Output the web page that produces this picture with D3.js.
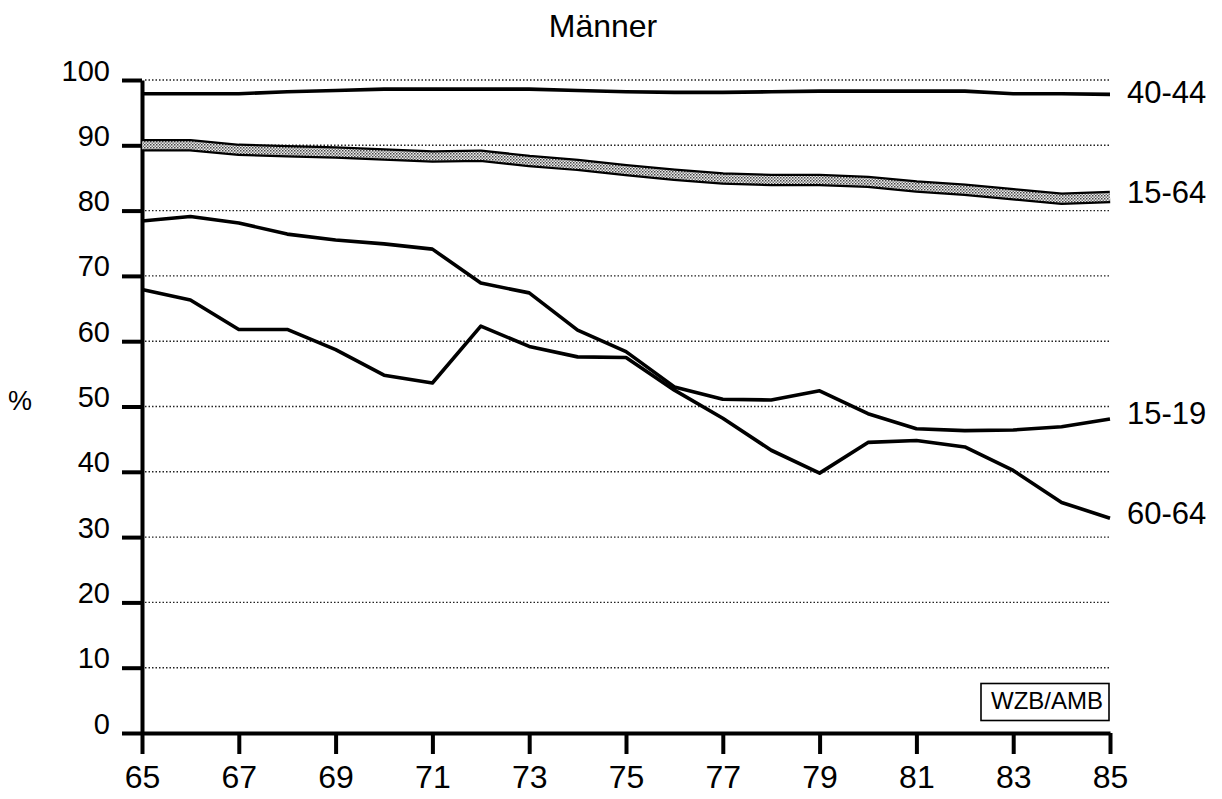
<!DOCTYPE html>
<html>
<head>
<meta charset="utf-8">
<script src="https://cdnjs.cloudflare.com/ajax/libs/d3/7.8.5/d3.min.js"></script>
<style>
  body { margin: 0; background: #fff; }
  text { font-family: "Liberation Sans", Arial, sans-serif; fill: #000; }
</style>
</head>
<body>
<script>
// data (Erwerbsquoten Männer, %)

const years = [65, 66, 67, 68, 69, 70, 71, 72, 73, 74, 75, 76, 77, 78, 79, 80, 81, 82, 83, 84, 85];
const age4044 = [97.9, 97.9, 97.9, 98.2, 98.4, 98.6, 98.6, 98.6, 98.6, 98.4, 98.2, 98.1, 98.1, 98.2, 98.3, 98.3, 98.3, 98.3, 97.9, 97.9, 97.8];
const age1564 = [90.0, 90.0, 89.3, 89.1, 88.9, 88.6, 88.3, 88.4, 87.6, 87.0, 86.2, 85.5, 84.9, 84.7, 84.7, 84.4, 83.7, 83.2, 82.5, 81.8, 82.1];
const age1519 = [78.4, 79.1, 78.1, 76.4, 75.5, 74.9, 74.1, 68.9, 67.4, 61.7, 58.4, 53.0, 51.1, 51.0, 52.4, 48.9, 46.6, 46.3, 46.4, 46.9, 48.1];
const age6064 = [67.9, 66.3, 61.8, 61.8, 58.7, 54.8, 53.6, 62.3, 59.2, 57.6, 57.5, 52.5, 48.2, 43.3, 39.8, 44.5, 44.8, 43.8, 40.2, 35.3, 32.9];
const xTicks = [65, 67, 69, 71, 73, 75, 77, 79, 81, 83, 85];
const yTicks = [0, 10, 20, 30, 40, 50, 60, 70, 80, 90, 100];

// graph

const w = 1222;
const h = 799;

const svg = d3.select("body").append("svg").
attr("width", w).
attr("height", h);

const x = d3.scaleLinear().domain([65, 85]).range([142, 1110]);
const y = d3.scaleLinear().domain([0, 100]).range([733, 80]);

// pattern for the 15-64 band

const defs = svg.append("defs");
const pat = defs.append("pattern").
attr("id", "dots").
attr("patternUnits", "userSpaceOnUse").
attr("width", 3).
attr("height", 3);
pat.append("rect").attr("width", 3).attr("height", 3).attr("fill", "#ececec");
pat.append("rect").attr("width", 1.5).attr("height", 1.5).attr("fill", "#444");
pat.append("rect").attr("x", 1.5).attr("y", 1.5).attr("width", 1.5).attr("height", 1.5).attr("fill", "#777");

// title

svg.append("text").
attr("x", 603).
attr("y", 37).
attr("text-anchor", "middle").
style("font-size", "32px").
text("Männer");

// grid

svg.append("g").
selectAll("line").
data(yTicks.filter(d => d > 0)).
enter().
append("line").
attr("x1", x(65) + 3).
attr("x2", x(85)).
attr("y1", d => y(d)).
attr("y2", d => y(d)).
attr("stroke", "#222").
attr("stroke-width", 1.4).
attr("stroke-dasharray", "1.5,2");

// axes

const yAxis = d3.axisLeft(y).
tickValues(yTicks).
tickSize(20).
tickSizeOuter(0).
tickPadding(12).
tickFormat(d3.format("d"));

const xAxis = d3.axisBottom(x).
tickValues(xTicks).
tickSize(21).
tickSizeOuter(0).
tickPadding(11).
tickFormat(d3.format("d"));

const gy = svg.append("g").
attr("transform", "translate(" + x(65) + ",0)").
call(yAxis);

const gx = svg.append("g").
attr("transform", "translate(0," + y(0) + ")").
call(xAxis);

[gy, gx].forEach(g => {
  g.selectAll(".domain").attr("stroke", "#000").attr("stroke-width", 4);
  g.selectAll(".tick line").attr("stroke", "#000").attr("stroke-width", 4);
  g.selectAll(".tick text").
  style("font-family", "'Liberation Sans', Arial, sans-serif").
  attr("fill", "#000");
});
gy.selectAll(".tick text").style("font-size", "29px").attr("dy", "0em");
gx.selectAll(".tick text").style("font-size", "32px").attr("dy", "0.72em");

svg.append("text").
attr("x", 20).
attr("y", 410).
attr("text-anchor", "middle").
style("font-size", "27px").
text("%");

// lines

const line = d3.line().
x((d, i) => x(years[i])).
y(d => y(d));

svg.append("path").
datum(age1564).
attr("d", line).
attr("fill", "none").
attr("stroke", "#000").
attr("stroke-width", 12.5);

svg.append("path").
datum(age1564).
attr("d", line).
attr("fill", "none").
attr("stroke", "url(#dots)").
attr("stroke-width", 8);

[age4044, age1519, age6064].forEach(s => {
  svg.append("path").
  datum(s).
  attr("d", line).
  attr("fill", "none").
  attr("stroke", "#000").
  attr("stroke-width", 3.6).
  attr("stroke-linejoin", "round");
});

// labels

const labels = [
{ t: "40-44", v: age4044[20], off: -2 },
{ t: "15-64", v: age1564[20], off: -5 },
{ t: "15-19", v: age1519[20], off: -6 },
{ t: "60-64", v: age6064[20], off: -5 }];


svg.selectAll(".lbl").
data(labels).
enter().
append("text").
attr("class", "lbl").
attr("x", 1127).
attr("y", d => y(d.v) + d.off).
attr("dy", "0.35em").
style("font-size", "31px").
text(d => d.t);

// source box

svg.append("rect").
attr("x", 981).
attr("y", 683.5).
attr("width", 128).
attr("height", 37).
attr("fill", "#fff").
attr("stroke", "#000").
attr("stroke-width", 1.6);

svg.append("text").
attr("x", 1047).
attr("y", 709).
attr("text-anchor", "middle").
style("font-size", "24px").
text("WZB/AMB");
</script>
</body>
</html>
